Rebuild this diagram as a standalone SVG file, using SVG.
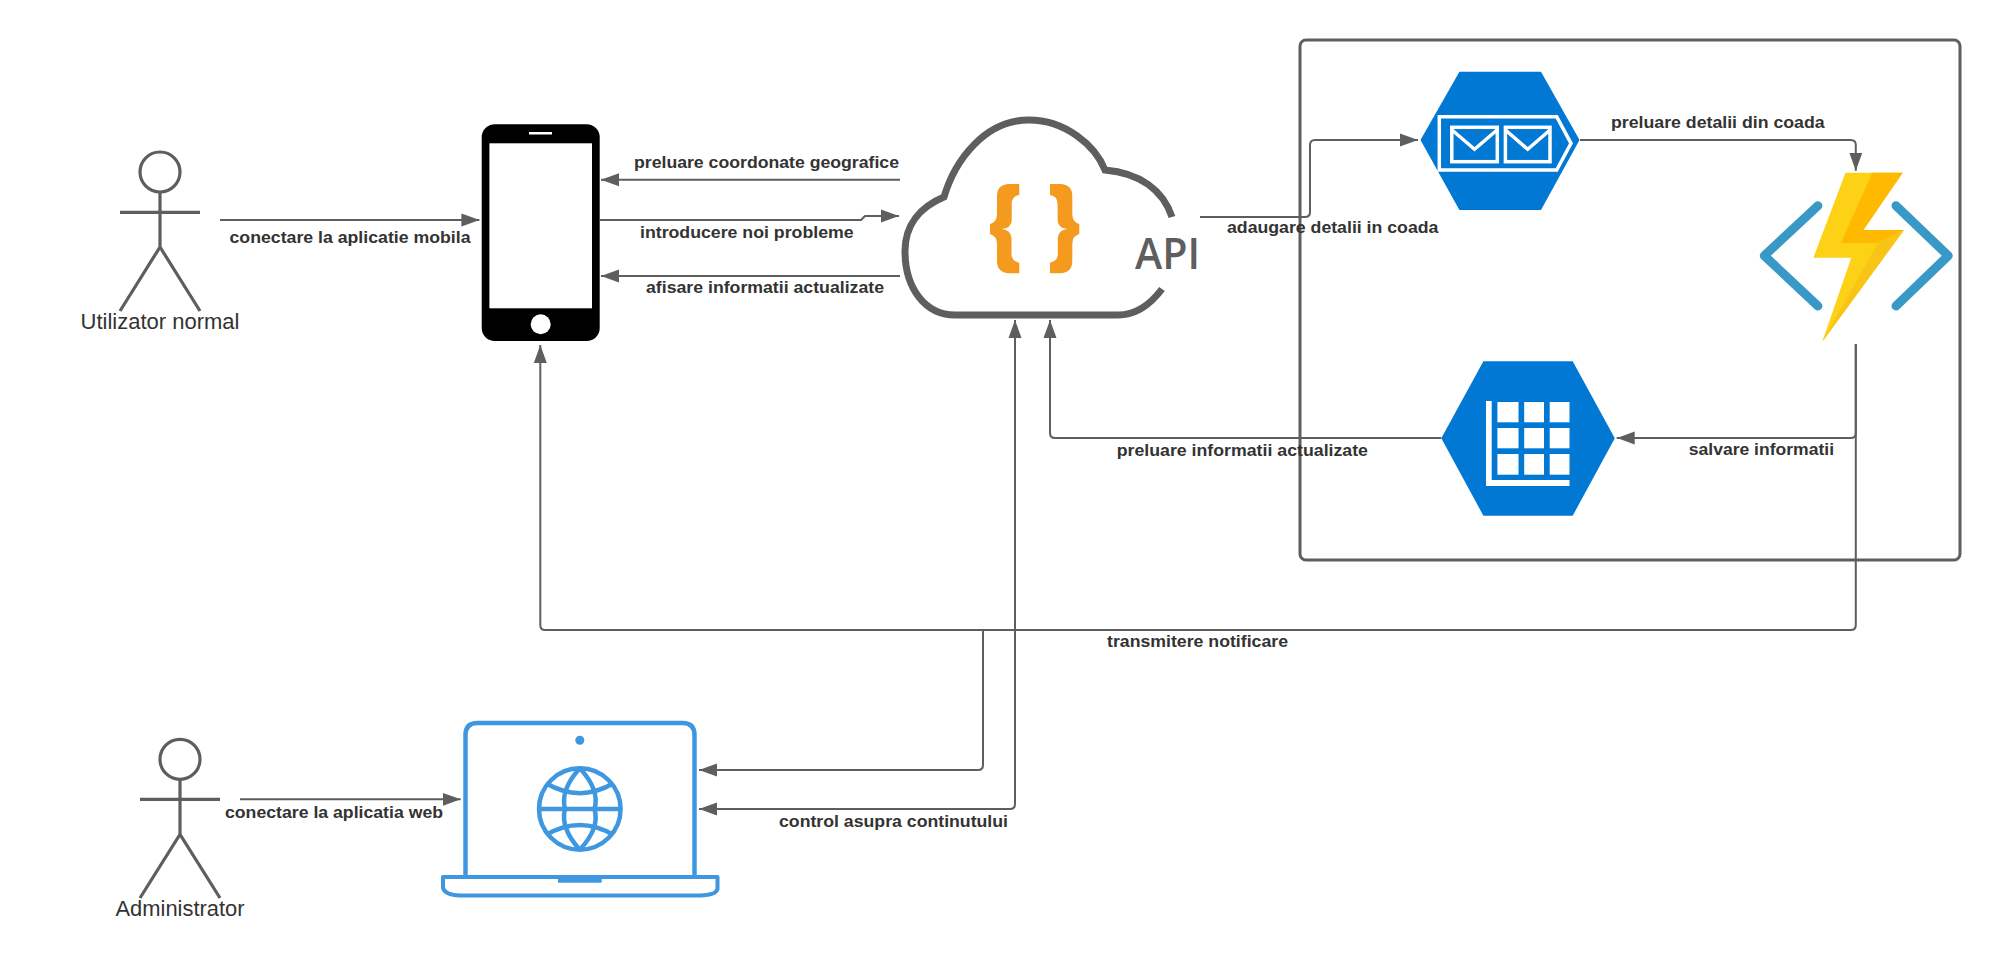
<svg xmlns="http://www.w3.org/2000/svg" width="2000" height="960" viewBox="0 0 2000 960">
<style>
text{font-family:"Liberation Sans",Arial,sans-serif;fill:#333}
.lb{font-size:17px;font-weight:700}
.ac{font-size:22.5px;text-anchor:middle}
.cn{fill:none;stroke:#5e5e5e;stroke-width:2;stroke-linejoin:round}
.ar{marker-end:url(#ah)}
.st{fill:none;stroke:#5e5e5e;stroke-width:3.200}
.hx{fill:#0078d4}
.wl{fill:none;stroke:#fff;stroke-width:3.500}
.bl{fill:none;stroke:#3f97e0;stroke-width:4.500;stroke-linejoin:round}
.br{fill:none;stroke:#3999c6;stroke-width:9;stroke-linecap:round;stroke-linejoin:round}
.or{fill:#f39a1f}
.cell{fill:#fff}
</style>
<defs>
<marker id="ah" markerUnits="userSpaceOnUse" markerWidth="18" markerHeight="14" refX="18" refY="7" orient="auto"><path d="M0 0.500L18 7L0 13.500Z" fill="#5e5e5e"/></marker>
<marker id="as" markerUnits="userSpaceOnUse" markerWidth="18" markerHeight="14" refX="0" refY="7" orient="auto"><path d="M18 0.500L0 7L18 13.500Z" fill="#5e5e5e"/></marker>
</defs>
<rect width="2000" height="960" fill="#fff"/>
<g id="container"><rect x="1300" y="40" width="660" height="520" rx="6" fill="none" stroke="#5e5e5e" stroke-width="3"/></g>
<g id="user-normal">
<circle class="st" cx="160" cy="172" r="20"/>
<path class="st" d="M120 212.300H200M160 192V247L120 311M160 247L200 311"/>
<text class="ac" x="160" y="329" textLength="159" lengthAdjust="spacingAndGlyphs">Utilizator normal</text>
</g>
<g id="phone">
<rect x="481.700" y="124.300" width="118" height="216.700" rx="13" fill="#000"/>
<rect x="489.400" y="143.300" width="102.600" height="165" fill="#fff"/>
<rect x="529" y="132" width="23" height="2.500" fill="#fff"/>
<circle cx="540.700" cy="324.300" r="10" fill="#fff"/>
</g>
<g id="api-cloud">
<path d="M1172 217C1163 190 1140 173 1105 170C1095 145 1065 120 1029 120C985 120 955 160 944 197C920 207 905 225 905 251C905 288 925 315 955 315L1118 315C1135 315 1150 305 1162 289" fill="none" stroke="#5e5e5e" stroke-width="7"/>
<path id="brace" class="or" d="M1019.300 184V195Q1011.700 196 1011.700 204V221Q1011 228 1001.700 229Q1011 230 1011.500 238V255Q1012 261 1019.300 262.700V273.300H1008Q997 272 997 261V244Q997 236 990 234V224Q997 222 997 214V196Q997 185 1008 184Z"/>
<path class="or" transform="translate(2069.300 0) scale(-1 1)" d="M1019.300 184V195Q1011.700 196 1011.700 204V221Q1011 228 1001.700 229Q1011 230 1011.500 238V255Q1012 261 1019.300 262.700V273.300H1008Q997 272 997 261V244Q997 236 990 234V224Q997 222 997 214V196Q997 185 1008 184Z"/>
<text x="1135" y="269.300" font-size="44" font-weight="600" textLength="65" lengthAdjust="spacingAndGlyphs" style="font-family:'Open Sans','Liberation Sans',sans-serif;fill:#5e5e5e">API</text>
</g>
<g id="queue">
<polygon class="hx" points="1420.500,140 1459.400,71.700 1541,71.700 1579.500,140 1541,210 1459.400,210"/>
<path class="wl" d="M1439.300 116.700H1556.700L1571 143.300L1556.700 170H1439.300Z"/>
<rect class="wl" x="1451.800" y="127.300" width="45.500" height="34.400"/>
<rect class="wl" x="1505.400" y="127.300" width="44.600" height="34.400"/>
<path class="wl" d="M1452 130L1474.500 149.300L1497 130M1505.500 130L1527.700 149.300L1550 130"/>
</g>
<g id="function">
<path class="br" d="M1817.900 205.700L1764.300 255.700L1817.900 306M1896 205.700L1948.200 255.700L1896 306"/>
<polygon fill="#fcd116" points="1845.500,172.700 1902.700,172.700 1863.400,230 1904,230 1822.300,341.700 1851.300,257.700 1813.400,257.700"/>
<polygon fill="#ffb900" points="1872.300,172.700 1902.700,172.700 1863.400,230 1904,230 1878,243 1841,243"/>
<polygon fill="#f8c517" points="1878,243 1904,230 1822.300,341.700"/>
</g>
<g id="table">
<polygon class="hx" points="1441.300,438.300 1483.400,361.300 1572.700,361.300 1614.800,438.300 1572.700,515.700 1483.400,515.700"/>
<path class="cell" d="M1486 401H1491.700V480H1569.500V486H1486Z"/>
<rect class="cell" x="1497.400" y="402" width="21.100" height="20.300"/><rect class="cell" x="1524.200" y="402" width="19.800" height="20.300"/><rect class="cell" x="1549.700" y="402" width="19.800" height="20.300"/>
<rect class="cell" x="1497.400" y="428" width="21.100" height="20.300"/><rect class="cell" x="1524.200" y="428" width="19.800" height="20.300"/><rect class="cell" x="1549.700" y="428" width="19.800" height="20.300"/>
<rect class="cell" x="1497.400" y="454" width="21.100" height="20.700"/><rect class="cell" x="1524.200" y="454" width="19.800" height="20.700"/><rect class="cell" x="1549.700" y="454" width="19.800" height="20.700"/>
</g>
<g id="admin">
<circle class="st" cx="180" cy="759.300" r="20"/>
<path class="st" d="M140 799.300H220M180 779V834.300L140 898M180 834.300L220 898"/>
<text class="ac" x="180" y="916" textLength="129" lengthAdjust="spacingAndGlyphs">Administrator</text>
</g>
<g id="laptop">
<path class="bl" d="M465.500 875V735Q465.500 723 477.500 723H682.500Q694.500 723 694.500 735V875"/>
<path class="bl" d="M443 877H717.500V889Q716 895 700 895.500H460Q445 895 443 888Z" style="stroke-width:4"/>
<rect x="558" y="875" width="43.700" height="7.700" fill="#3f97e0"/>
<circle cx="579.800" cy="740.300" r="4.500" fill="#3f97e0"/>
<g class="bl">
<ellipse cx="579.800" cy="809" rx="40.800" ry="40.700"/>
<path d="M539 809H620.600M579.800 768.300Q560 790 565 809Q560 828 579.800 849.700M579.800 768.300Q600 790 594.500 809Q600 828 579.800 849.700M546 783.300Q579.800 803 613.500 783.300M546 835Q579.800 815 613.500 835"/>
</g>
</g>
<g id="connectors">
<path class="cn ar" d="M220 220H479.400"/>
<path class="cn ar" d="M900 179.700H601"/>
<path class="cn ar" d="M600 220H861L865 216H899"/>
<path class="cn ar" d="M900 276H601"/>
<path class="cn ar" d="M1200 217H1305Q1310 217 1310 212V145Q1310 140 1315 140H1418"/>
<path class="cn ar" d="M1580 140H1850.800Q1855.800 140 1855.800 145V170.700"/>
<path class="cn ar" d="M1855.800 344V433Q1855.800 438 1850.800 438H1616.700"/>
<path class="cn ar" d="M1441.300 438H1055Q1050 438 1050 433V320"/>
<path class="cn ar" d="M1855.800 344V625Q1855.800 630 1850.800 630H545Q540.300 630 540.300 625V345"/>
<path class="cn ar" d="M983 630V765Q983 770 978 770H699"/>
<path class="cn ar" d="M1015 320V804Q1015 809 1010 809H699" marker-start="url(#as)"/>
<path class="cn ar" d="M240 799.300H460.700"/>
</g>
<g id="labels">
<text class="lb" x="229.500" y="242.700" textLength="241" lengthAdjust="spacingAndGlyphs">conectare la aplicatie mobila</text>
<text class="lb" x="634" y="168.300" textLength="265" lengthAdjust="spacingAndGlyphs">preluare coordonate geografice</text>
<text class="lb" x="640" y="237.700" textLength="213.600" lengthAdjust="spacingAndGlyphs">introducere noi probleme</text>
<text class="lb" x="646" y="293" textLength="238" lengthAdjust="spacingAndGlyphs">afisare informatii actualizate</text>
<text class="lb" x="1227" y="233.300" textLength="211.400" lengthAdjust="spacingAndGlyphs">adaugare detalii in coada</text>
<text class="lb" x="1611" y="128.300" textLength="213.600" lengthAdjust="spacingAndGlyphs">preluare detalii din coada</text>
<text class="lb" x="1688.800" y="455" textLength="145.200" lengthAdjust="spacingAndGlyphs">salvare informatii</text>
<text class="lb" x="1116.700" y="455.700" textLength="251.300" lengthAdjust="spacingAndGlyphs">preluare informatii actualizate</text>
<text class="lb" x="1107" y="647.300" textLength="181" lengthAdjust="spacingAndGlyphs">transmitere notificare</text>
<text class="lb" x="225" y="817.700" textLength="218" lengthAdjust="spacingAndGlyphs">conectare la aplicatia web</text>
<text class="lb" x="779" y="827" textLength="229" lengthAdjust="spacingAndGlyphs">control asupra continutului</text>
</g>
</svg>
